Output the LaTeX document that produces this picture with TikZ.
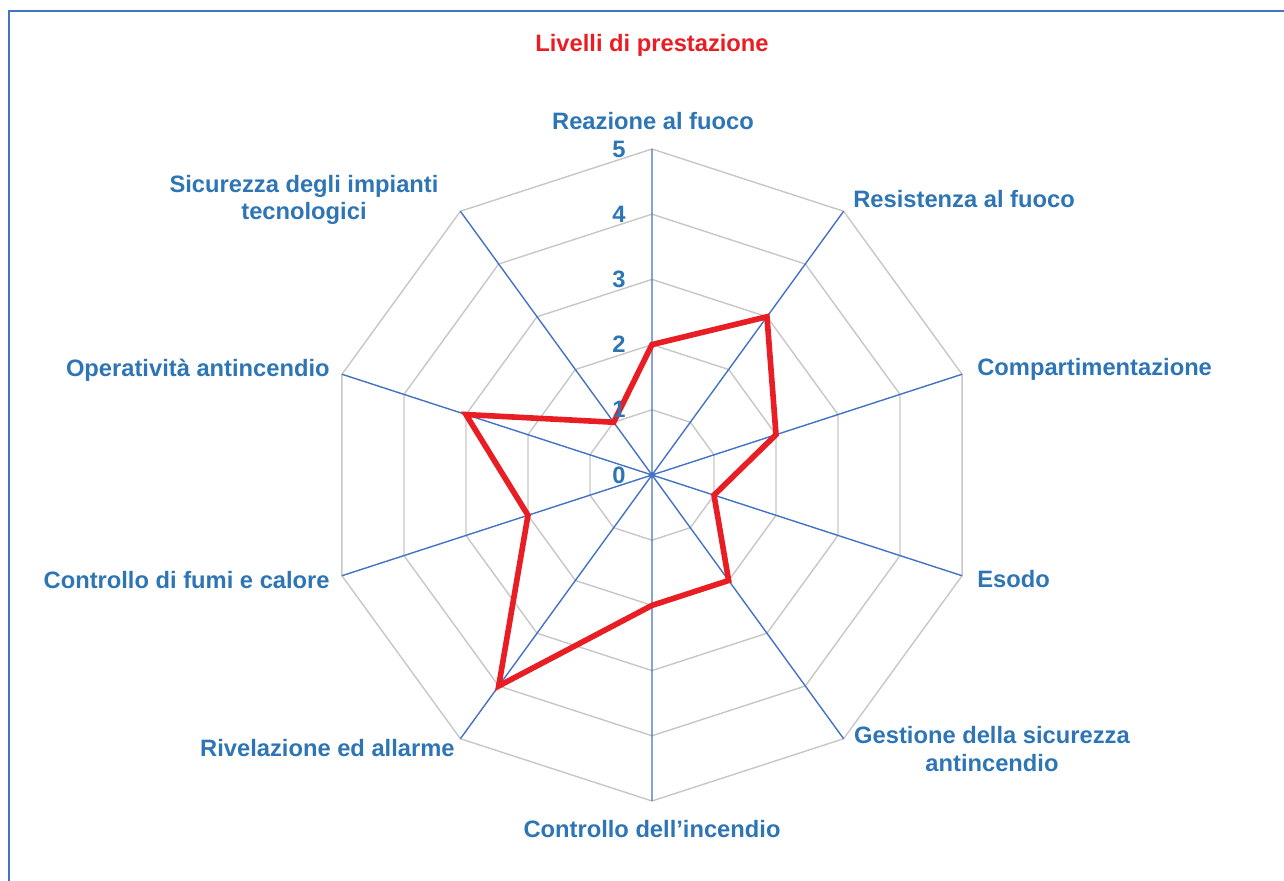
\documentclass[tikz,border=0pt]{standalone}
\usepackage{fontspec}
\setmainfont{Liberation Sans}
\usetikzlibrary{positioning}
\definecolor{lblue}{RGB}{46,117,182}
\definecolor{axblue}{RGB}{68,114,196}
\definecolor{lred}{RGB}{232,30,36}
\tikzstyle{lab}=[text=lblue,font=\bfseries\fontsize{13.5}{15.5}\selectfont,inner sep=0pt,align=center]
\tikzstyle{ax}=[draw=axblue,line width=0.8pt]
\tikzstyle{ring}=[draw=black!22,line width=0.8pt]
\tikzstyle{val}=[draw=lred,line width=3.2pt,line join=miter]

\begin{document}
\begin{tikzpicture}[x=0.02cm,y=0.02cm]
\useasboundingbox (-652,-406) rectangle (632,475);
% frame
\draw[axblue,line width=1.1pt] (-643,-406) -- (-643,464) -- (632,464);
% grid
\foreach \r in {1,...,5}
  \draw[ring] (90:{\r*65.2}) \foreach \a in {54,18,...,-234} {-- (\a:{\r*65.2})} -- cycle;
\coordinate (o) at (0,0);
\foreach \a/\n in {90/a1,54/a2,18/a3,-18/a4,-54/a5,-90/a6,-126/a7,-162/a8,162/a9,126/a10}
  \coordinate (\n) at (\a:326);
\draw[ax] (o) -- (a1) (o) -- (a2) (o) -- (a3) (o) -- (a4) (o) -- (a5)
  (o) -- (a6) (o) -- (a7) (o) -- (a8) (o) -- (a9) (o) -- (a10);
% values
\foreach \a/\v/\n in {90/2/p1,54/3/p2,18/2/p3,-18/1/p4,-54/2/p5,-90/2/p6,-126/4/p7,-162/2/p8,162/3/p9,126/1/p10}
  \coordinate (\n) at (\a:{\v*65.2});
\draw[val] (p1) -- (p2) -- (p3) -- (p4) -- (p5) -- (p6) -- (p7) -- (p8) -- (p9) -- (p10) -- cycle;
% scale
\foreach \k in {0,...,5}
  \node[lab] (t\k) at (-33,{\k*65.2}) {\k};
% labels
\node[lab,text=lred] (title) at (0,430) {Livelli di prestazione};
\node[lab] (l1) at (1,354) {Reazione al fuoco};
\node[lab,anchor=west] (l2) at (201,276) {Resistenza al fuoco};
\node[lab,anchor=west] (l3) at (325,106) {Compartimentazione};
\node[lab,anchor=west] (l4) at (325,-104) {Esodo};
\node[lab] (l5) at (340,-274) {Gestione della sicurezza\\antincendio};
\node[lab] (l6) at (0,-354) {Controllo dell’incendio};
\node[lab,anchor=east] (l7) at (-197,-273) {Rivelazione ed allarme};
\node[lab,anchor=east] (l8) at (-322,-105) {Controllo di fumi e calore};
\node[lab,anchor=east] (l9) at (-322,105) {Operatività antincendio};
\node[lab] (l10) at (-348,275) {Sicurezza degli impianti\\tecnologici};
\end{tikzpicture}
\end{document}
